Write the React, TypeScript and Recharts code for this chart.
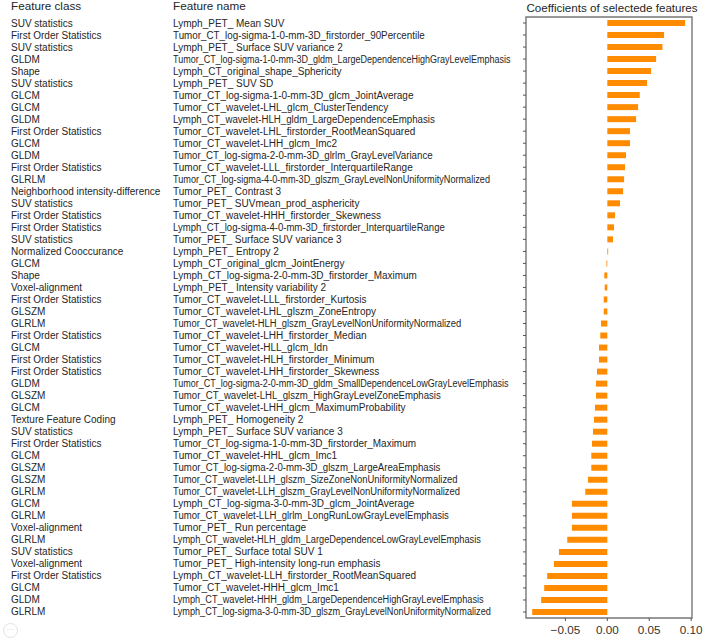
import { BarChart, Bar, XAxis, YAxis, ReferenceArea } from "recharts";

const featureClasses = [
  "SUV statistics",
  "First Order Statistics",
  "SUV statistics",
  "GLDM",
  "Shape",
  "SUV statistics",
  "GLCM",
  "GLCM",
  "GLDM",
  "First Order Statistics",
  "GLCM",
  "GLDM",
  "First Order Statistics",
  "GLRLM",
  "Neighborhood intensity-difference",
  "SUV statistics",
  "First Order Statistics",
  "First Order Statistics",
  "SUV statistics",
  "Normalized  Cooccurance",
  "GLCM",
  "Shape",
  "Voxel-alignment",
  "First Order Statistics",
  "GLSZM",
  "GLRLM",
  "First Order Statistics",
  "GLCM",
  "First Order Statistics",
  "First Order Statistics",
  "GLDM",
  "GLSZM",
  "GLCM",
  "Texture Feature Coding",
  "SUV statistics",
  "First Order Statistics",
  "GLCM",
  "GLSZM",
  "GLSZM",
  "GLRLM",
  "GLCM",
  "GLRLM",
  "Voxel-alignment",
  "GLRLM",
  "SUV statistics",
  "Voxel-alignment",
  "First Order Statistics",
  "GLCM",
  "GLDM",
  "GLRLM",
];

const featureNames = [
  "Lymph_PET_ Mean SUV",
  "Tumor_CT_log-sigma-1-0-mm-3D_firstorder_90Percentile",
  "Lymph_PET_ Surface SUV variance  2",
  "Tumor_CT_log-sigma-1-0-mm-3D_gldm_LargeDependenceHighGrayLevelEmphasis",
  "Lymph_CT_original_shape_Sphericity",
  "Lymph_PET_ SUV SD",
  "Tumor_CT_log-sigma-1-0-mm-3D_glcm_JointAverage",
  "Tumor_CT_wavelet-LHL_glcm_ClusterTendency",
  "Lymph_CT_wavelet-HLH_gldm_LargeDependenceEmphasis",
  "Tumor_CT_wavelet-LHL_firstorder_RootMeanSquared",
  "Tumor_CT_wavelet-LHH_glcm_Imc2",
  "Tumor_CT_log-sigma-2-0-mm-3D_glrlm_GrayLevelVariance",
  "Tumor_CT_wavelet-LLL_firstorder_InterquartileRange",
  "Tumor_CT_log-sigma-4-0-mm-3D_glszm_GrayLevelNonUniformityNormalized",
  "Tumor_PET_ Contrast 3",
  "Tumor_PET_ SUVmean_prod_asphericity",
  "Tumor_CT_wavelet-HHH_firstorder_Skewness",
  "Lymph_CT_log-sigma-4-0-mm-3D_firstorder_InterquartileRange",
  "Tumor_PET_ Surface SUV variance 3",
  "Lymph_PET_ Entropy 2",
  "Lymph_CT_original_glcm_JointEnergy",
  "Lymph_CT_log-sigma-2-0-mm-3D_firstorder_Maximum",
  "Lymph_PET_ Intensity variability 2",
  "Tumor_CT_wavelet-LLL_firstorder_Kurtosis",
  "Tumor_CT_wavelet-LHL_glszm_ZoneEntropy",
  "Tumor_CT_wavelet-HLH_glszm_GrayLevelNonUniformityNormalized",
  "Tumor_CT_wavelet-LHH_firstorder_Median",
  "Tumor_CT_wavelet-HLL_glcm_Idn",
  "Tumor_CT_wavelet-HLH_firstorder_Minimum",
  "Tumor_CT_wavelet-LHH_firstorder_Skewness",
  "Tumor_CT_log-sigma-2-0-mm-3D_gldm_SmallDependenceLowGrayLevelEmphasis",
  "Tumor_CT_wavelet-LHL_glszm_HighGrayLevelZoneEmphasis",
  "Tumor_CT_wavelet-LHH_glcm_MaximumProbability",
  "Lymph_PET_ Homogeneity 2",
  "Lymph_PET_ Surface SUV variance  3",
  "Tumor_CT_log-sigma-1-0-mm-3D_firstorder_Maximum",
  "Tumor_CT_wavelet-HHL_glcm_Imc1",
  "Tumor_CT_log-sigma-2-0-mm-3D_glszm_LargeAreaEmphasis",
  "Tumor_CT_wavelet-LLH_glszm_SizeZoneNonUniformityNormalized",
  "Tumor_CT_wavelet-LLH_glszm_GrayLevelNonUniformityNormalized",
  "Lymph_CT_log-sigma-3-0-mm-3D_glcm_JointAverage",
  "Tumor_CT_wavelet-LLH_glrlm_LongRunLowGrayLevelEmphasis",
  "Tumor_PET_ Run percentage",
  "Lymph_CT_wavelet-HLH_gldm_LargeDependenceLowGrayLevelEmphasis",
  "Tumor_PET_ Surface total SUV 1",
  "Tumor_PET_ High-intensity long-run emphasis",
  "Lymph_CT_wavelet-LLH_firstorder_RootMeanSquared",
  "Tumor_CT_wavelet-HHH_glcm_Imc1",
  "Lymph_CT_wavelet-HHH_gldm_LargeDependenceHighGrayLevelEmphasis",
  "Lymph_CT_log-sigma-3-0-mm-3D_glszm_GrayLevelNonUniformityNormalized",
];

const coefficients = [
  0.0928, 0.0677, 0.0657, 0.0582, 0.0522, 0.0474, 0.0387, 0.0367, 0.0343,
  0.0271, 0.0271, 0.0223, 0.0211, 0.02, 0.0188, 0.0152, 0.0092, 0.008, 0.0068,
  0.001, -0.001, -0.0036, -0.0031, -0.0043, -0.0043, -0.0075, -0.0084,
  -0.0099, -0.0099, -0.0123, -0.0135, -0.0135, -0.0147, -0.0159, -0.0171,
  -0.0183, -0.0191, -0.0191, -0.0231, -0.0263, -0.0422, -0.0422, -0.0422,
  -0.0478, -0.0577, -0.0637, -0.0717, -0.0753, -0.0789, -0.0896,
];

const xDomain = [-0.097, 0.101];
const xTicks = [-0.05, 0, 0.05, 0.1];

const data = coefficients.map((coef, idx) => ({ idx, coef }));

const FONT = '"Liberation Sans", Arial, sans-serif';
const TEXT = "#262626";
const FRAME = "#777";
const TICK = "#555";

// the long feature names in the source table are squeezed a bit
let ctx: CanvasRenderingContext2D | null = null;
function squeezedWidth(s: string) {
  if (!ctx) ctx = document.createElement("canvas").getContext("2d");
  if (!ctx) return undefined;
  ctx.font = '10px "Liberation Sans"';
  const w = ctx.measureText(s).width;
  return w > 240 ? 240 + (w - 240) * 0.72 : undefined;
}

function RowTick({ x, y, payload }: { x?: number; y?: number; payload?: { value: number } }) {
  const i = payload?.value ?? 0;
  const ax = (x ?? 0) + 2;
  const tl = squeezedWidth(featureNames[i]);
  return (
    <g fontFamily={FONT} fontSize={10} fill={TEXT}>
      <path d={`M${ax - 3},${y}H${ax}`} stroke={TICK} strokeWidth={1} />
      <text x={11} y={y} dy="0.35em">
        {featureClasses[i]}
      </text>
      <text
        x={173}
        y={y}
        dy="0.35em"
        textLength={tl}
        lengthAdjust={tl ? "spacingAndGlyphs" : undefined}
      >
        {featureNames[i]}
      </text>
    </g>
  );
}

function CoefTick({ x, y, payload }: { x?: number; y?: number; payload?: { value: number } }) {
  const v = payload?.value ?? 0;
  const label = v < 0 ? "\u2212" + Math.abs(v).toFixed(2) : v.toFixed(2);
  const ty = y ?? 0;
  return (
    <g fontFamily={FONT} fontSize={11.7} fill="#333">
      <path d={`M${x},${ty - 5}v3`} stroke={TICK} strokeWidth={1} />
      <text x={x} y={ty} dy="0.95em" textAnchor="middle">
        {label}
      </text>
    </g>
  );
}

export default function App() {
  return (
    <div
      style={{
        position: "absolute",
        left: 0,
        top: 0,
        width: 708,
        height: 638,
        background: "#fff",
        fontFamily: FONT,
        color: TEXT,
      }}
    >
      <div style={{ position: "absolute", left: 11, top: -1, fontSize: 11.7, lineHeight: "14px" }}>
        Feature class
      </div>
      <div style={{ position: "absolute", left: 173, top: -1, fontSize: 11.7, lineHeight: "14px" }}>
        Feature name
      </div>
      <div
        style={{
          position: "absolute",
          left: 612,
          top: 0,
          transform: "translateX(-50%)",
          whiteSpace: "nowrap",
          fontSize: 11.6,
          lineHeight: "15px",
        }}
      >
        Coefficients of selectede features
      </div>
      <BarChart
        width={708}
        height={638}
        data={data}
        layout="vertical"
        margin={{ top: 15, right: 16, bottom: 0, left: 0 }}
      >
        <XAxis
          type="number"
          domain={xDomain}
          allowDataOverflow
          ticks={xTicks}
          height={20}
          tickSize={3}
          tickMargin={2}
          axisLine={false}
          tickLine={false}
          tick={<CoefTick />}
        />
        <YAxis
          type="category"
          dataKey="idx"
          width={526}
          padding={{ top: 2, bottom: 0 }}
          interval={0}
          tickSize={0}
          tickMargin={2}
          axisLine={false}
          tickLine={false}
          tick={<RowTick />}
        />
        <ReferenceArea
          x1={xDomain[0]}
          x2={xDomain[1]}
          fill="none"
          stroke={FRAME}
          strokeWidth={1.4}
          ifOverflow="visible"
        />
        <Bar dataKey="coef" fill="#ff8c00" barSize={6} isAnimationActive={false} />
      </BarChart>
      <div
        style={{
          position: "absolute",
          left: 3,
          top: 623,
          width: 13,
          height: 13,
          border: "1px solid #e2e2e2",
          borderRadius: "50%",
          color: "#d0d0d0",
          fontSize: 8,
          lineHeight: "11px",
          textAlign: "center",
        }}
      >
        ···
      </div>
    </div>
  );
}
